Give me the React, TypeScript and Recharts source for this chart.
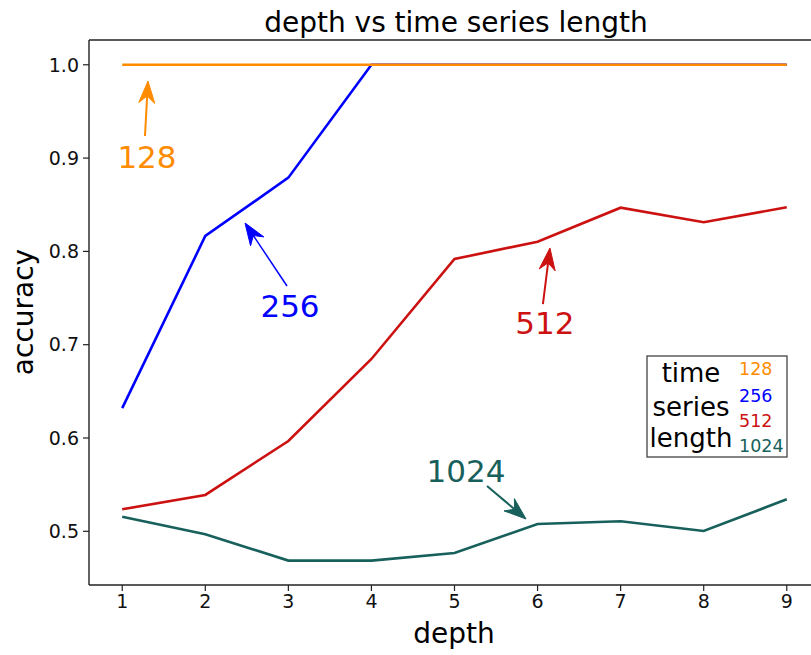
import { LineChart, Line, XAxis, YAxis, ReferenceLine, ReferenceDot, Customized } from "recharts";

const depths = [1, 2, 3, 4, 5, 6, 7, 8, 9];
const acc128 = [1, 1, 1, 1, 1, 1, 1, 1, 1];
const acc256 = [0.632, 0.8165, 0.879, 1, 1, 1, 1, 1, 1];
const acc512 = [0.5236, 0.539, 0.5968, 0.6847, 0.7918, 0.8104, 0.8468, 0.8312, 0.8472];
const acc1024 = [0.5157, 0.4968, 0.4686, 0.4686, 0.4768, 0.5079, 0.5107, 0.5003, 0.5343];
const xTicks = [1, 2, 3, 4, 5, 6, 7, 8, 9];
const yTicks = [0.5, 0.6, 0.7, 0.8, 0.9, 1.0];

const data = depths.map((d, i) => ({
  depth: d,
  s128: acc128[i],
  s256: acc256[i],
  s512: acc512[i],
  s1024: acc1024[i],
}));

const C128 = "#ff8c00";
const C256 = "#0000ff";
const C512 = "#cc1111";
const C1024 = "#17605b";

const FONT = "'DejaVu Sans', sans-serif";
const Y_MIN = 0.44245;
const Y_MAX = 1.02655;

// arrow tip in data units, tail and label offsets in px
const notes = [
  { label: "128", color: C128, x: 1.31, y: 0.9826, tail: [-3, 55], text: [-1, 87], w: 2 },
  { label: "256", color: C256, x: 2.478, y: 0.8304, tail: [42, 63], text: [45, 94], w: 1.5 },
  { label: "512", color: C512, x: 6.149, y: 0.8036, tail: [-7, 56], text: [-5, 86], w: 2 },
  { label: "1024", color: C1024, x: 5.861, y: 0.5132, tail: [-39, -33], text: [-60, -37], w: 2 },
];

function arrowShape(n: (typeof notes)[number]) {
  return (props: any) => {
    const { cx, cy } = props;
    const tx = cx + n.tail[0];
    const ty = cy + n.tail[1];
    const len = Math.hypot(cx - tx, cy - ty);
    const ux = (cx - tx) / len;
    const uy = (cy - ty) / len;
    const px = -uy;
    const py = ux;
    const hl = 22;
    const hw = 8;
    const notch = 15;
    const bx = cx - ux * hl;
    const by = cy - uy * hl;
    const nx = cx - ux * notch;
    const ny = cy - uy * notch;
    const pts = [
      [cx, cy],
      [bx + px * hw, by + py * hw],
      [nx, ny],
      [bx - px * hw, by - py * hw],
    ]
      .map((p) => p.join(","))
      .join(" ");
    return (
      <g>
        <line x1={tx} y1={ty} x2={nx} y2={ny} stroke={n.color} strokeWidth={n.w} />
        <polygon points={pts} fill={n.color} stroke={n.color} strokeWidth={1} />
        <text
          x={cx + n.text[0]}
          y={cy + n.text[1]}
          textAnchor="middle"
          fontSize={31}
          fontFamily={FONT}
          fill={n.color}
        >
          {n.label}
        </text>
      </g>
    );
  };
}

function Overlay() {
  return (
    <g fontFamily={FONT}>
      <text x={456} y={32} textAnchor="middle" fontSize={28} fill="#000">
        depth vs time series length
      </text>
      <text x={454} y={643} textAnchor="middle" fontSize={28} fill="#000">
        depth
      </text>
      <text
        x={0}
        y={0}
        transform="translate(33,312) rotate(-90)"
        textAnchor="middle"
        fontSize={28}
        fill="#000"
      >
        accuracy
      </text>
      <rect x={647} y={356} width={140} height={101} fill="#fff" stroke="#444" strokeWidth={1.3} />
      <g fontSize={26} fill="#000" textAnchor="middle">
        <text x={691} y={382}>time</text>
        <text x={691} y={416}>series</text>
        <text x={691} y={447}>length</text>
      </g>
      <g fontSize={17.5}>
        <text x={739} y={375} fill={C128}>128</text>
        <text x={739} y={402} fill={C256}>256</text>
        <text x={739} y={427} fill={C512}>512</text>
        <text x={739} y={452} fill={C1024}>1024</text>
      </g>
    </g>
  );
}

export default function App() {
  return (
    <div
      style={{
        position: "absolute",
        left: 0,
        top: 0,
        width: 811,
        height: 655,
        overflow: "hidden",
        background: "#fff",
      }}
    >
      <LineChart
        width={820}
        height={655}
        data={data}
        margin={{ top: 40, right: 0, bottom: 0, left: 0 }}
      >
        <XAxis
          dataKey="depth"
          type="number"
          domain={[0.6, 9.4]}
          ticks={xTicks}
          allowDataOverflow
          tickSize={6}
          tickMargin={4}
          axisLine={{ stroke: "#222", strokeWidth: 1.4 }}
          tickLine={{ stroke: "#222", strokeWidth: 1.2 }}
          tick={{ fontSize: 19, fill: "#111", fontFamily: FONT }}
          height={70}
        />
        <YAxis
          type="number"
          domain={[Y_MIN, Y_MAX]}
          ticks={yTicks}
          allowDataOverflow
          width={89}
          tickSize={6}
          tickMargin={4}
          tickFormatter={(v: number) => v.toFixed(1)}
          axisLine={{ stroke: "#222", strokeWidth: 1.4 }}
          tickLine={{ stroke: "#222", strokeWidth: 1.2 }}
          tick={{ fontSize: 19, fill: "#111", fontFamily: FONT }}
        />
        <ReferenceLine y={Y_MAX} stroke="#222" strokeWidth={1.4} ifOverflow="visible" />
        <Line dataKey="s256" stroke={C256} strokeWidth={2.6} dot={false} isAnimationActive={false} />
        <Line dataKey="s512" stroke={C512} strokeWidth={2.6} dot={false} isAnimationActive={false} />
        <Line dataKey="s1024" stroke={C1024} strokeWidth={2.6} dot={false} isAnimationActive={false} />
        <Line dataKey="s128" stroke={C128} strokeWidth={2.6} dot={false} isAnimationActive={false} />
        {notes.map((n) => (
          <ReferenceDot
            key={n.label}
            x={n.x}
            y={n.y}
            r={0}
            ifOverflow="visible"
            shape={arrowShape(n)}
          />
        ))}
        <Customized component={<Overlay />} />
      </LineChart>
    </div>
  );
}
